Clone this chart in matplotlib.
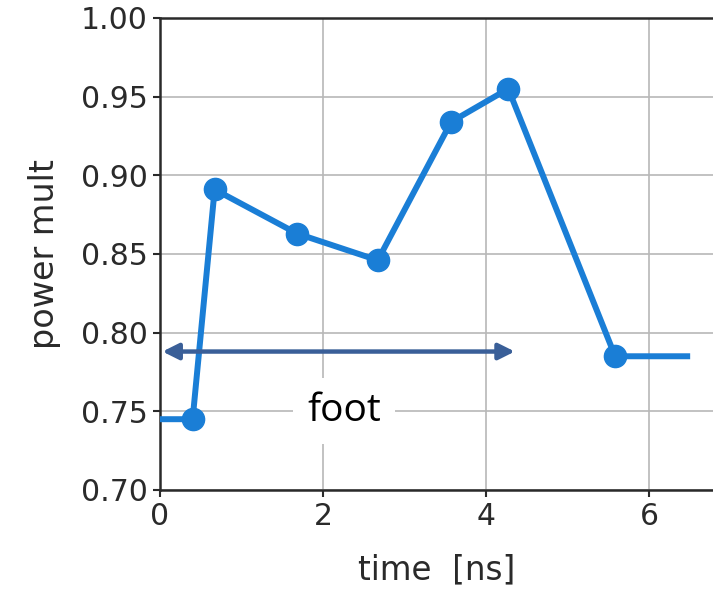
import numpy as np
import matplotlib.pyplot as plt

# power multiplier vs time
time_ns = [0.0, 0.40, 0.67, 1.68, 2.67, 3.57, 4.27, 5.58, 6.50]
power_mult = [0.745, 0.745, 0.891, 0.863, 0.846, 0.934, 0.955, 0.785, 0.785]

x_ticks = [0, 2, 4, 6]
y_ticks = [0.70, 0.75, 0.80, 0.85, 0.90, 0.95, 1.00]

foot_start = 0.03
foot_end = 4.35
foot_level = 0.788

plt.rcParams['font.family'] = ['DejaVu Sans']

fig = plt.figure(figsize=(7.13, 5.90), dpi=100)
ax = fig.add_axes([0.2244, 0.1695, 0.7756, 0.80])

ax.plot(time_ns, power_mult, color='#1a7ed6', lw=4.3, solid_capstyle='butt',
        marker='o', markersize=16, markevery=list(range(1, len(time_ns) - 1)),
        zorder=3)

ax.set_xlim(0, 6.78)
ax.set_ylim(0.70, 1.00)
ax.set_xticks(x_ticks)
ax.set_yticks(y_ticks)
ax.set_yticklabels([f'{v:.2f}' for v in y_ticks])
ax.grid(True, color='#b8b8b8', lw=1.2)
ax.set_axisbelow(True)

for side in ['left', 'bottom', 'top']:
    ax.spines[side].set_linewidth(1.8)
    ax.spines[side].set_color('#2a2a2a')
ax.spines['right'].set_visible(False)
ax.tick_params(labelsize=21.5, colors='#2a2a2a', width=1.5, length=5, pad=4)

ax.set_xlabel('time  [ns]', fontsize=23.5, color='#2a2a2a', labelpad=16)
ax.set_ylabel('power mult', fontsize=24, color='#2a2a2a', labelpad=14)

ax.annotate('', xy=(foot_start, foot_level), xytext=(foot_end, foot_level),
            arrowprops=dict(arrowstyle='<|-|>', color='#3a5f98', lw=3.2,
                            mutation_scale=24, shrinkA=0, shrinkB=0), zorder=4)
ax.text(2.26, 0.7505, 'foot', fontsize=28, family='Open Sans', ha='center',
        va='center', color='black',
        bbox=dict(facecolor='white', edgecolor='none', pad=10), zorder=2)

fig.savefig('out.png', dpi=100)
